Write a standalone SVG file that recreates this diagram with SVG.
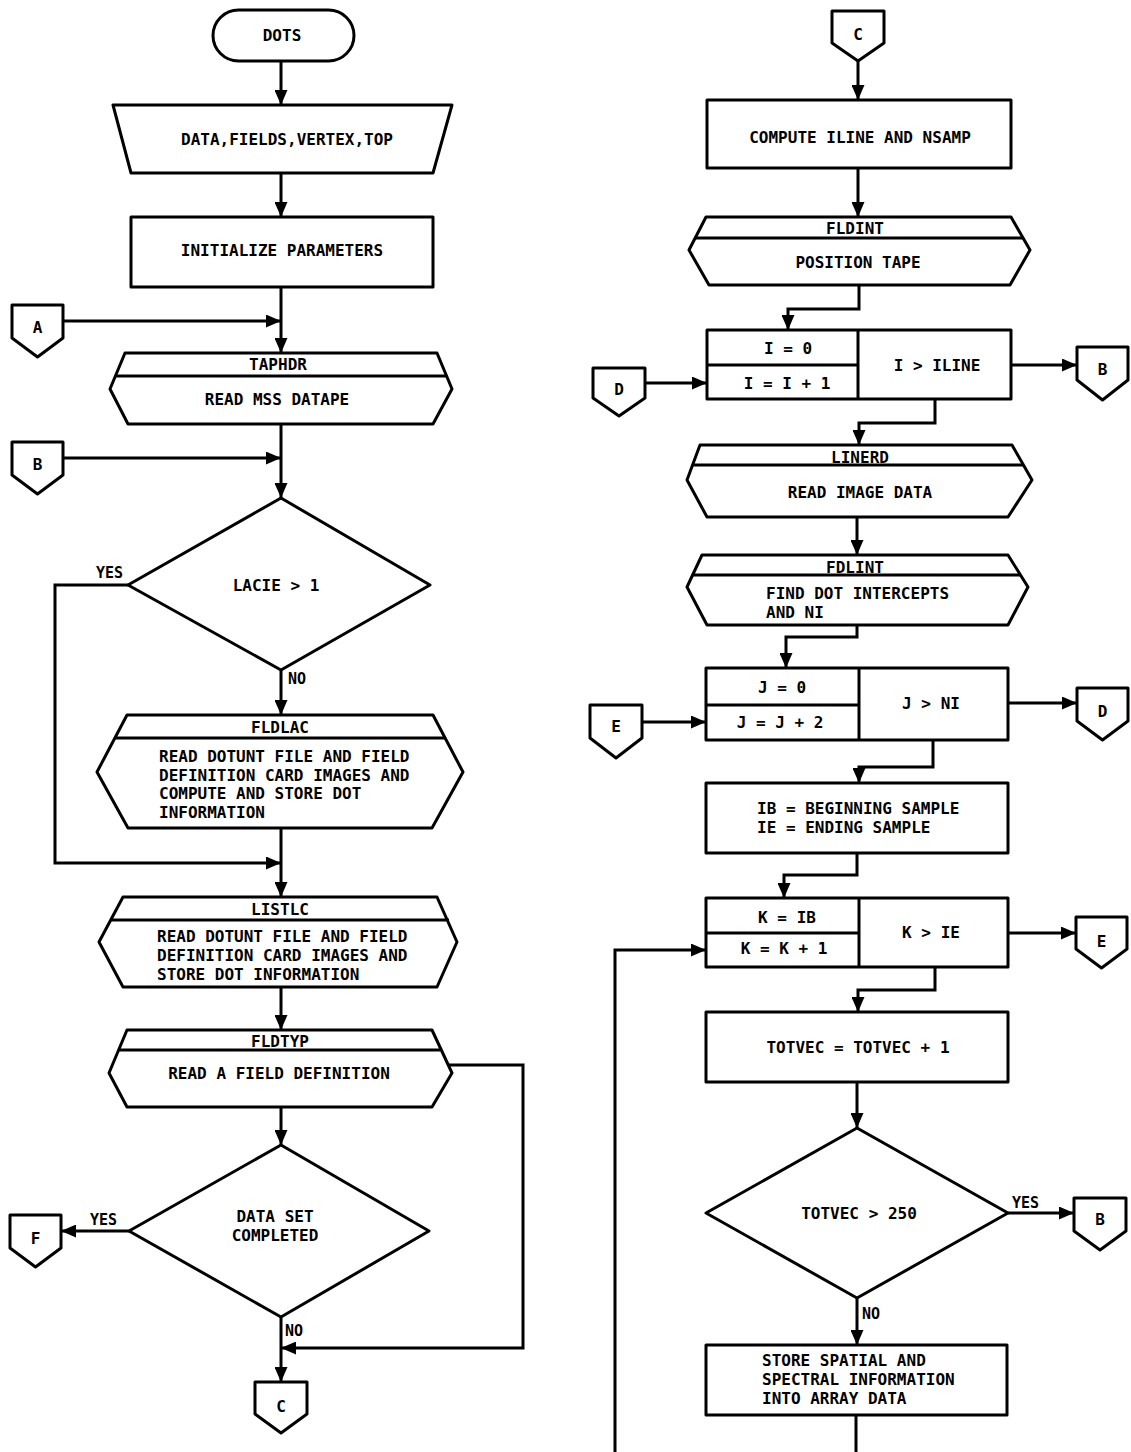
<svg xmlns="http://www.w3.org/2000/svg" width="1131" height="1452" viewBox="0 0 1131 1452">
<style>
.ln{stroke:#000;stroke-width:3;fill:none;stroke-linejoin:miter}
.sh{fill:#fff;stroke:#000;stroke-width:3;stroke-linejoin:round}
.dv{stroke:#000;stroke-width:3;fill:none}
text{font-family:"DejaVu Sans Mono","Liberation Mono",monospace;font-weight:bold;font-size:16px;fill:#000}
.c{text-anchor:middle}
.s{font-size:15px}
.p{font-size:16px}
</style>
<defs>
<marker id="ah" markerUnits="userSpaceOnUse" markerWidth="15" markerHeight="13" refX="15" refY="6.5" orient="auto">
<path d="M0,0 L15,6.5 L0,13 z" fill="#000"/>
</marker>
</defs>
<rect width="1131" height="1452" fill="#fff"/>

<g id="connectors">
<path class="ln" d="M281,61 V105" marker-end="url(#ah)"/>
<path class="ln" d="M281,173 V217" marker-end="url(#ah)"/>
<path class="ln" d="M281,287 V353" marker-end="url(#ah)"/>
<path class="ln" d="M63,321 H281" marker-end="url(#ah)"/>
<path class="ln" d="M281,424 V498" marker-end="url(#ah)"/>
<path class="ln" d="M63,458 H281" marker-end="url(#ah)"/>
<path class="ln" d="M281,670 V715" marker-end="url(#ah)"/>
<path class="ln" d="M128,585 H55 V863 H281" marker-end="url(#ah)"/>
<path class="ln" d="M281,828 V897" marker-end="url(#ah)"/>
<path class="ln" d="M281,987 V1030" marker-end="url(#ah)"/>
<path class="ln" d="M281,1107 V1145" marker-end="url(#ah)"/>
<path class="ln" d="M448,1065 H523 V1348 H281" marker-end="url(#ah)"/>
<path class="ln" d="M129,1231 H61" marker-end="url(#ah)"/>
<path class="ln" d="M281,1317 V1382" marker-end="url(#ah)"/>
<path class="ln" d="M858,61 V100" marker-end="url(#ah)"/>
<path class="ln" d="M858,168 V217" marker-end="url(#ah)"/>
<path class="ln" d="M859,285 V309 H788 V330" marker-end="url(#ah)"/>
<path class="ln" d="M645,383 H707" marker-end="url(#ah)"/>
<path class="ln" d="M1011,365 H1077" marker-end="url(#ah)"/>
<path class="ln" d="M935,399 V423 H859 V445" marker-end="url(#ah)"/>
<path class="ln" d="M857,517 V555" marker-end="url(#ah)"/>
<path class="ln" d="M857,625 V637 H786 V668" marker-end="url(#ah)"/>
<path class="ln" d="M642,722 H706" marker-end="url(#ah)"/>
<path class="ln" d="M1008,703 H1077" marker-end="url(#ah)"/>
<path class="ln" d="M933,740 V767 H859 V783" marker-end="url(#ah)"/>
<path class="ln" d="M857,853 V875 H784 V898" marker-end="url(#ah)"/>
<path class="ln" d="M1008,933 H1076" marker-end="url(#ah)"/>
<path class="ln" d="M615,1452 V950 H706" marker-end="url(#ah)"/>
<path class="ln" d="M935,967 V990 H858 V1012" marker-end="url(#ah)"/>
<path class="ln" d="M857,1082 V1128" marker-end="url(#ah)"/>
<path class="ln" d="M1008,1213 H1074" marker-end="url(#ah)"/>
<path class="ln" d="M857,1298 V1345" marker-end="url(#ah)"/>
<path class="ln" d="M856,1415 V1452"/>
<text class="s" x="96" y="578">YES</text>
<text class="s" x="288" y="684">NO</text>
<text class="s" x="90" y="1225">YES</text>
<text class="s" x="285" y="1336">NO</text>
<text class="s" x="1012" y="1208">YES</text>
<text class="s" x="862" y="1319">NO</text>
</g>

<g id="dots">
<rect class="sh" x="213" y="10" width="141" height="51" rx="25.5"/>
<text class="c" x="282" y="41">DOTS</text>
</g>
<g id="input">
<polygon class="sh" points="113,105 452,105 433,173 131,173"/>
<text class="c" x="287" y="145">DATA,FIELDS,VERTEX,TOP</text>
</g>
<g id="init">
<rect class="sh" x="131" y="217" width="302" height="70"/>
<text class="c" x="282" y="256">INITIALIZE PARAMETERS</text>
</g>
<g id="conA">
<polygon class="sh" points="12,305 63,305 63,338 37.5,357 12,338"/>
<text class="c p" x="37.5" y="333">A</text>
</g>
<g id="taphdr">
<polygon class="sh" points="125,353 437,353 452,389 433,424 128,424 110,389"/>
<line class="dv" x1="115" y1="376" x2="447" y2="376"/>
<text class="c" x="278" y="370">TAPHDR</text>
<text class="c" x="277" y="405">READ MSS DATAPE</text>
</g>
<g id="conB1">
<polygon class="sh" points="12,442 63,442 63,475 37.5,494 12,475"/>
<text class="c p" x="37.5" y="470">B</text>
</g>
<g id="lacie">
<polygon class="sh" points="281,498 430,585 281,670 128,585"/>
<text class="c" x="276" y="591">LACIE &gt; 1</text>
</g>
<g id="fldlac">
<polygon class="sh" points="127,715 433,715 463,772 432,828 128,828 97,772"/>
<line class="dv" x1="115" y1="738" x2="445" y2="738"/>
<text class="c" x="280" y="733">FLDLAC</text>
<text x="159" y="762">READ DOTUNT FILE AND FIELD</text>
<text x="159" y="781">DEFINITION CARD IMAGES AND</text>
<text x="159" y="799">COMPUTE AND STORE DOT</text>
<text x="159" y="818">INFORMATION</text>
</g>
<g id="listlc">
<polygon class="sh" points="123,897 437,897 457,942 437,987 123,987 99,942"/>
<line class="dv" x1="111" y1="920" x2="449" y2="920"/>
<text class="c" x="280" y="915">LISTLC</text>
<text x="157" y="942">READ DOTUNT FILE AND FIELD</text>
<text x="157" y="961">DEFINITION CARD IMAGES AND</text>
<text x="157" y="980">STORE DOT INFORMATION</text>
</g>
<g id="fldtyp">
<polygon class="sh" points="127,1030 432,1030 452,1073 432,1107 127,1107 109,1073"/>
<line class="dv" x1="119" y1="1050" x2="440" y2="1050"/>
<text class="c" x="280" y="1047">FLDTYP</text>
<text class="c" x="279" y="1079">READ A FIELD DEFINITION</text>
</g>
<g id="dataset">
<polygon class="sh" points="281,1145 429,1231 281,1317 129,1231"/>
<text class="c" x="275" y="1222">DATA SET</text>
<text class="c" x="275" y="1241">COMPLETED</text>
</g>
<g id="conF">
<polygon class="sh" points="10,1215 61,1215 61,1248 35.5,1267 10,1248"/>
<text class="c p" x="35.5" y="1244">F</text>
</g>
<g id="conC1">
<polygon class="sh" points="255,1382 307,1382 307,1414 281,1433 255,1414"/>
<text class="c p" x="281" y="1412">C</text>
</g>

<g id="conC2">
<polygon class="sh" points="832,11 884,11 884,43 858,61 832,43"/>
<text class="c p" x="858" y="40">C</text>
</g>
<g id="compute">
<rect class="sh" x="707" y="100" width="304" height="68"/>
<text class="c" x="860" y="143">COMPUTE ILINE AND NSAMP</text>
</g>
<g id="fldint">
<polygon class="sh" points="706,217 1011,217 1030,250 1010,285 709,285 689,250"/>
<line class="dv" x1="695" y1="238" x2="1023" y2="238"/>
<text class="c" x="855" y="234">FLDINT</text>
<text class="c" x="858" y="268">POSITION TAPE</text>
</g>
<g id="loopI">
<rect class="sh" x="707" y="330" width="304" height="69"/>
<line class="dv" x1="858" y1="330" x2="858" y2="399"/>
<line class="dv" x1="707" y1="365" x2="858" y2="365"/>
<text class="c" x="788" y="354">I = 0</text>
<text class="c" x="787" y="389">I = I + 1</text>
<text class="c" x="937" y="371">I &gt; ILINE</text>
</g>
<g id="conD1">
<polygon class="sh" points="593,368 645,368 645,398 619,416 593,398"/>
<text class="c p" x="619" y="395">D</text>
</g>
<g id="conB2">
<polygon class="sh" points="1077,347 1128,347 1128,380 1102.5,400 1077,380"/>
<text class="c p" x="1102.5" y="375">B</text>
</g>
<g id="linerd">
<polygon class="sh" points="700,445 1012,445 1032,480 1008,517 707,517 687,480"/>
<line class="dv" x1="693" y1="465" x2="1023" y2="465"/>
<text class="c" x="860" y="463">LINERD</text>
<text class="c" x="860" y="498">READ IMAGE DATA</text>
</g>
<g id="fdlint">
<polygon class="sh" points="702,555 1008,555 1028,587 1008,625 707,625 687,587"/>
<line class="dv" x1="693" y1="575" x2="1020" y2="575"/>
<text class="c" x="855" y="573">FDLINT</text>
<text x="766" y="599">FIND DOT INTERCEPTS</text>
<text x="766" y="618">AND NI</text>
</g>
<g id="loopJ">
<rect class="sh" x="706" y="668" width="302" height="72"/>
<line class="dv" x1="859" y1="668" x2="859" y2="740"/>
<line class="dv" x1="706" y1="705" x2="859" y2="705"/>
<text class="c" x="782" y="693">J = 0</text>
<text class="c" x="780" y="728">J = J + 2</text>
<text class="c" x="931" y="709">J &gt; NI</text>
</g>
<g id="conE1">
<polygon class="sh" points="590,705 642,705 642,738 616,758 590,738"/>
<text class="c p" x="616" y="732">E</text>
</g>
<g id="conD2">
<polygon class="sh" points="1077,688 1128,688 1128,721 1102.5,740 1077,721"/>
<text class="c p" x="1102.5" y="717">D</text>
</g>
<g id="ibie">
<rect class="sh" x="706" y="783" width="302" height="70"/>
<text x="757" y="814">IB = BEGINNING SAMPLE</text>
<text x="757" y="833">IE = ENDING SAMPLE</text>
</g>
<g id="loopK">
<rect class="sh" x="706" y="898" width="302" height="69"/>
<line class="dv" x1="859" y1="898" x2="859" y2="967"/>
<line class="dv" x1="706" y1="933" x2="859" y2="933"/>
<text class="c" x="787" y="923">K = IB</text>
<text class="c" x="784" y="954">K = K + 1</text>
<text class="c" x="931" y="938">K &gt; IE</text>
</g>
<g id="conE2">
<polygon class="sh" points="1076,917 1127,917 1127,949 1101.5,968 1076,949"/>
<text class="c p" x="1101.5" y="947">E</text>
</g>
<g id="totvec">
<rect class="sh" x="706" y="1012" width="302" height="70"/>
<text class="c" x="858" y="1053">TOTVEC = TOTVEC + 1</text>
</g>
<g id="totvecTest">
<polygon class="sh" points="857,1128 1008,1213 857,1298 706,1213"/>
<text class="c" x="859" y="1219">TOTVEC &gt; 250</text>
</g>
<g id="conB3">
<polygon class="sh" points="1074,1198 1126,1198 1126,1231 1100,1250 1074,1231"/>
<text class="c p" x="1100" y="1225">B</text>
</g>
<g id="store">
<rect class="sh" x="706" y="1345" width="301" height="70"/>
<text x="762" y="1366">STORE SPATIAL AND</text>
<text x="762" y="1385">SPECTRAL INFORMATION</text>
<text x="762" y="1404">INTO ARRAY DATA</text>
</g>
</svg>
